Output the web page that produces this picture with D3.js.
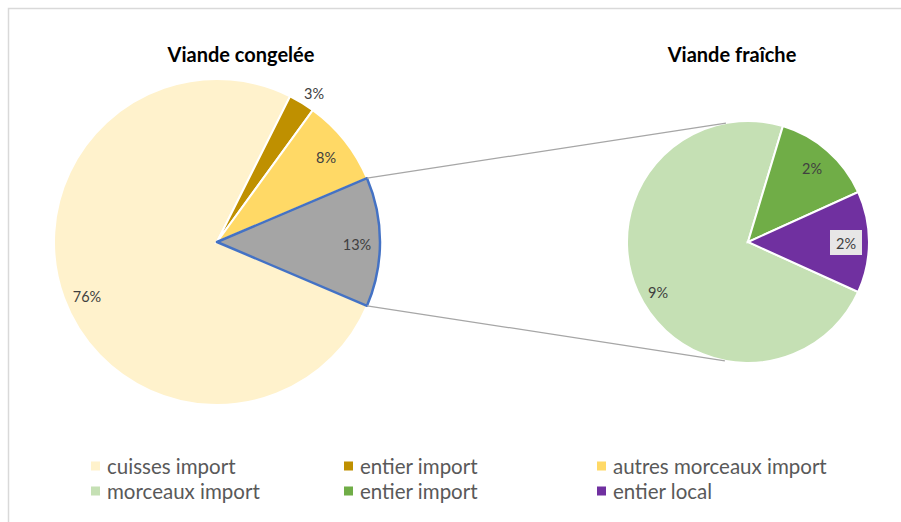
<!DOCTYPE html>
<html><head><meta charset="utf-8">
<script src="https://cdn.jsdelivr.net/npm/d3@7/dist/d3.min.js"></script>
<style>body{margin:0;background:#fff}svg{display:block}</style>
</head><body>
<svg id="c" width="901" height="522"></svg>
<script>
// Data
const mainCategories = ["cuisses import", "entier import", "autres morceaux import", "autres"];
const mainValues = [76, 2.6, 8.6, 12.8];
const mainLabels = ["76%", "3%", "8%", "13%"];
const mainColors = ["#FFF2CC", "#BF9000", "#FFD966", "#A5A5A5"];

const secCategories = ["morceaux import", "entier import", "entier local"];
const secValues = [9.4, 1.75, 1.75];
const secLabels = ["9%", "2%", "2%"];
const secColors = ["#C5E0B4", "#70AD47", "#7030A0"];

const titles = ["Viande congelée", "Viande fraîche"];
const legendItems = ["cuisses import", "entier import", "autres morceaux import", "morceaux import", "entier import", "entier local"];
const legendColors = ["#FFF2CC", "#BF9000", "#FFD966", "#C5E0B4", "#70AD47", "#7030A0"];

const svg = d3.select("#c");
const FONT = "Lato, 'Open Sans', sans-serif";

svg.append("rect").attr("x", 8.5).attr("y", 8.5).attr("width", 1000).attr("height", 1000)
  .attr("fill", "none").attr("stroke", "#d9d9d9").attr("stroke-width", 1.5);

// Main pie
const mc = [217, 242], mr = 163;
const toRad = d => d * Math.PI / 180;
const mainTotal = d3.sum(mainValues);
const grayAngle = mainValues[3] / mainTotal * 360;
const grayStart = 90 - grayAngle / 2;
const mainStart = grayStart - (mainValues[1] + mainValues[2]) / mainTotal * 360 - mainValues[0] / mainTotal * 360;
const mainPie = d3.pie().sort(null).value(d => d)
  .startAngle(toRad(mainStart)).endAngle(toRad(mainStart + 360));
const mainArcs = mainPie(mainValues);
const arc = d3.arc().innerRadius(0);

const gm = svg.append("g").attr("transform", `translate(${mc[0]},${mc[1]})`);
gm.selectAll("path").data(mainArcs).enter().append("path")
  .attr("d", d => arc.outerRadius(mr)(d))
  .attr("fill", (d, i) => mainColors[i])
  .attr("stroke", (d, i) => i === 3 ? "none" : "#fff")
  .attr("stroke-width", 2);
gm.append("path").attr("d", arc.outerRadius(mr)(mainArcs[3]))
  .attr("fill", "none").attr("stroke", "#4472C4").attr("stroke-width", 2.5).attr("stroke-linejoin", "round");

// Secondary pie
const sc = [748, 242], sr = 121;
const secTotal = d3.sum(secValues);
const lastAngle = secValues[2] / secTotal * 360;
const secPie = d3.pie().sort(null).value(d => d)
  .startAngle(toRad(90 + lastAngle / 2)).endAngle(toRad(90 + lastAngle / 2 + 360));
const secArcs = secPie(secValues);
const gs = svg.append("g").attr("transform", `translate(${sc[0]},${sc[1]})`);
gs.selectAll("path").data(secArcs).enter().append("path")
  .attr("d", d => arc.outerRadius(sr)(d))
  .attr("fill", (d, i) => secColors[i])
  .attr("stroke", "#fff").attr("stroke-width", 2);

// Connector lines
const pt = (c, r, a) => [c[0] + r * Math.sin(toRad(a)), c[1] - r * Math.cos(toRad(a))];
const g1 = pt(mc, mr, grayStart), g2 = pt(mc, mr, grayStart + grayAngle);
const s1 = pt(sc, sr, -10.5), s2 = pt(sc, sr, 191);
svg.append("line").attr("x1", g1[0]).attr("y1", g1[1]).attr("x2", s1[0]).attr("y2", s1[1])
  .attr("stroke", "#a6a6a6").attr("stroke-width", 1.25);
svg.append("line").attr("x1", g2[0]).attr("y1", g2[1]).attr("x2", s2[0]).attr("y2", s2[1])
  .attr("stroke", "#a6a6a6").attr("stroke-width", 1.25);

// Labels
const lblStyle = sel => sel.attr("font-family", FONT).attr("font-size", 14.5).attr("fill", "#404040")
  .attr("text-anchor", "middle").attr("dominant-baseline", "central");
const mainLabelPos = [[87, 296], [314, 93], [326, 157], [357, 244]];
mainLabels.forEach((t, i) => {
  svg.append("text").attr("x", mainLabelPos[i][0]).attr("y", mainLabelPos[i][1]).text(t).call(lblStyle);
});
const secLabelPos = [[658, 292], [812, 168], [846, 243]];
svg.append("rect").attr("x", 830).attr("y", 230).attr("width", 32).attr("height", 25).attr("fill", "#e7e6e6");
secLabels.forEach((t, i) => {
  svg.append("text").attr("x", secLabelPos[i][0]).attr("y", secLabelPos[i][1]).text(t).call(lblStyle);
});

// Titles
const titleX = [241, 732];
titles.forEach((t, i) => {
  svg.append("text").attr("x", titleX[i]).attr("y", 62).text(t)
    .attr("font-family", FONT).attr("font-weight", "bold").attr("font-size", 20)
    .attr("text-anchor", "middle").attr("fill", "#000");
});

// Legend
const colX = [91, 344, 597], rowY = [466, 491];
legendItems.forEach((t, i) => {
  const x = colX[i % 3], y = rowY[Math.floor(i / 3)];
  svg.append("rect").attr("x", x).attr("y", y - 4.5).attr("width", 9).attr("height", 9).attr("fill", legendColors[i]);
  svg.append("text").attr("x", x + 16).attr("y", y).text(t)
    .attr("font-family", FONT).attr("font-size", 20.5).attr("fill", "#595959").attr("dominant-baseline", "central");
});
</script>
</body></html>
